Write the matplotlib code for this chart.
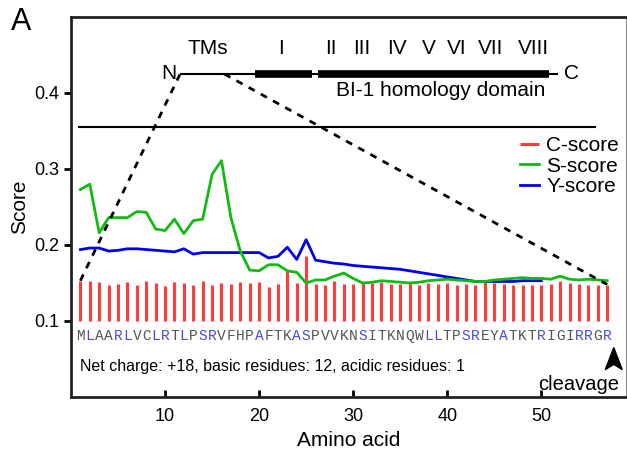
import matplotlib
matplotlib.use('Agg')
import matplotlib.pyplot as plt
from matplotlib.patches import Polygon
import numpy as np

plt.rcParams['font.family'] = ['Liberation Sans', 'DejaVu Sans']

# Signal peptide prediction scores per residue
residues = np.arange(1, 58)
c_score = [0.153, 0.152, 0.151, 0.148, 0.149, 0.151, 0.148, 0.153, 0.150, 0.146,
           0.151, 0.150, 0.147, 0.153, 0.148, 0.150, 0.149, 0.151, 0.150, 0.151,
           0.145, 0.149, 0.167, 0.150, 0.186, 0.149, 0.147, 0.153, 0.149, 0.149,
           0.151, 0.150, 0.151, 0.149, 0.149, 0.150, 0.148, 0.150, 0.149, 0.150,
           0.148, 0.149, 0.147, 0.153, 0.150, 0.149, 0.148, 0.147, 0.148, 0.147,
           0.149, 0.153, 0.150, 0.149, 0.148, 0.147, 0.148]
s_score = [0.273, 0.280, 0.216, 0.236, 0.236, 0.236, 0.244, 0.243, 0.221, 0.219,
           0.234, 0.215, 0.232, 0.234, 0.293, 0.311, 0.236, 0.192, 0.167, 0.166,
           0.174, 0.174, 0.166, 0.164, 0.150, 0.154, 0.154, 0.159, 0.163, 0.156,
           0.150, 0.151, 0.153, 0.152, 0.151, 0.150, 0.151, 0.153, 0.154, 0.155,
           0.154, 0.153, 0.152, 0.152, 0.154, 0.155, 0.156, 0.157, 0.156, 0.156,
           0.155, 0.159, 0.155, 0.154, 0.155, 0.154, 0.153]
y_pos = np.arange(1, 51)
y_score = [0.194, 0.196, 0.196, 0.192, 0.193, 0.195, 0.195, 0.194, 0.193, 0.192,
           0.191, 0.195, 0.188, 0.190, 0.190, 0.190, 0.190, 0.190, 0.190, 0.190,
           0.183, 0.185, 0.197, 0.181, 0.207, 0.180, 0.178, 0.176, 0.175, 0.173,
           0.172, 0.171, 0.170, 0.169, 0.168, 0.166, 0.164, 0.162, 0.160, 0.158,
           0.156, 0.154, 0.152, 0.152, 0.152, 0.152, 0.152, 0.153, 0.153, 0.153]

sequence = 'MLAARLVCLRTLPSRVFHPAFTKASPVVKNSITKNQWLLTPSREYATKTRIGIRRGR'
blue_residues = [2, 5, 6, 9, 10, 12, 14, 15, 20, 24, 25, 31, 38, 39, 42, 43,
                 46, 50, 54, 55, 57]

# protein diagram (in amino-acid units of the signal region axis)
tm_labels = ['I', 'II', 'III', 'IV', 'V', 'VI', 'VII', 'VIII']
tm_label_x = [22.3, 27.6, 30.9, 34.7, 38.0, 41.0, 44.6, 49.2]

fig = plt.figure(figsize=(6.27, 4.58), dpi=100)
ax = fig.add_axes([0.1132, 0.1332, 0.8852, 0.8297])

ax.vlines(residues, 0.1, c_score, colors='#ff3b3b', linewidth=2.2, label='C-score', zorder=2)
ax.plot(y_pos, y_score, color='#0000ee', linewidth=2, label='Y-score', zorder=3)
ax.plot(residues, s_score, color='#11bb11', linewidth=2, label='S-score', zorder=4)

# protein schematic
line_y = 0.425
ax.plot([11.6, 51.8], [line_y, line_y], color='black', linewidth=1.5, solid_capstyle='butt')
ax.plot([19.6, 25.6], [line_y, line_y], color='black', linewidth=5.5, solid_capstyle='butt')
ax.plot([26.3, 50.8], [line_y, line_y], color='black', linewidth=5.5, solid_capstyle='butt')
ax.text(11.2, line_y, 'N', ha='right', va='center', fontsize=15)
ax.text(52.4, line_y, 'C', ha='left', va='center', fontsize=15)
ax.text(14.5, 0.459, 'TMs', ha='center', va='center', fontsize=15)
for lab, lx in zip(tm_labels, tm_label_x):
    ax.text(lx, 0.459, lab, ha='center', va='center', fontsize=15)
ax.text(39.3, 0.403, 'BI-1 homology domain', ha='center', va='center', fontsize=15)

# zoom lines from schematic to sequence
ax.plot([1, 11.6], [c_score[0], line_y], color='black', linestyle=(0, (2.5, 2.5)), linewidth=2, zorder=5)
ax.plot([16.3, 57], [line_y, c_score[-1]], color='black', linestyle=(0, (2.5, 2.5)), linewidth=2, zorder=5)

ax.plot([0.85, 55.7], [0.355, 0.355], color='black', linewidth=1.5)

# sequence letters
for i, aa in enumerate(sequence, start=1):
    col = '#4a4ae0' if i in blue_residues else '#555555'
    ax.text(i, 0.080, aa, ha='center', va='center', fontsize=10.5,
            family='Liberation Mono', color=col)

ax.text(1.0, 0.040, 'Net charge: +18, basic residues: 12, acidic residues: 1',
        ha='left', va='center', fontsize=11.5)
ax.text(54.0, 0.016, 'cleavage', ha='center', va='center', fontsize=14.5)
ax.add_patch(Polygon([[57.7, 0.065], [56.8, 0.036], [57.7, 0.043], [58.6, 0.036]],
                     closed=True, facecolor='black', edgecolor='black', zorder=6,
                     clip_on=False))

ax.set_xlim(0, 59)
ax.set_ylim(0, 0.5)
ax.set_xticks([10, 20, 30, 40, 50])
ax.set_yticks([0.1, 0.2, 0.3, 0.4])
ax.set_yticklabels(['0.1', '0.2', '0.3', '0.4'])
ax.tick_params(axis='x', direction='in', length=5, width=2, labelsize=13, pad=8)
ax.tick_params(axis='y', direction='out', length=5, width=2, labelsize=13)
for s in ['left', 'bottom', 'top']:
    ax.spines[s].set_linewidth(2)
    ax.spines[s].set_color('#222222')
ax.spines['right'].set_linewidth(0.8)
ax.spines['right'].set_color('#888888')

ax.set_xlabel('Amino acid', fontsize=15, labelpad=4)
ax.set_ylabel('Score', fontsize=15)

h, l = ax.get_legend_handles_labels()
order = [l.index('C-score'), l.index('S-score'), l.index('Y-score')]
ax.legend([h[k] for k in order], [l[k] for k in order], loc='upper right',
          bbox_to_anchor=(1.01, 0.72), frameon=False, fontsize=15,
          handlelength=0.9, handletextpad=0.35, labelspacing=0.08, borderaxespad=0.2)

fig.text(0.018, 0.953, 'A', fontsize=22, ha='left', va='center')

fig.savefig('out.png', dpi=100)
